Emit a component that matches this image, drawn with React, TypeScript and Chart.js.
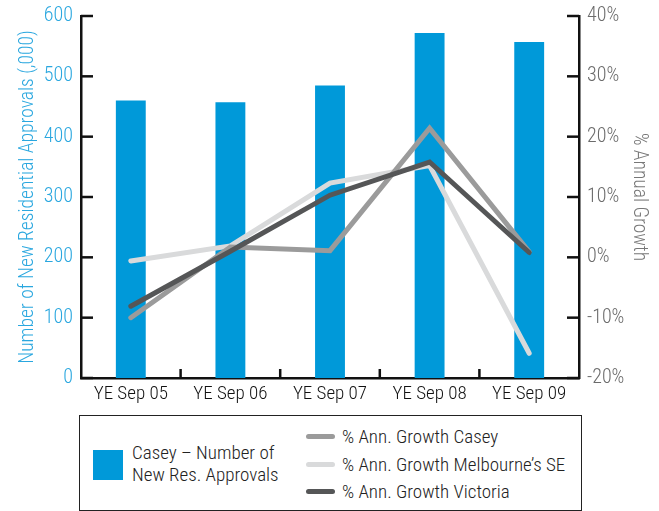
import React, { useEffect, useRef } from "react";
import { Chart, registerables } from "chart.js";

Chart.register(...registerables);

const categories = ["YE Sep 05", "YE Sep 06", "YE Sep 07", "YE Sep 08", "YE Sep 09"];
const approvals = [460, 457, 485, 572, 557];
const growthCasey = [-10, 1.7, 1.1, 21.4, 0.9];
const growthMelbSE = [-0.6, 1.9, 12.3, 15.2, -15.9];
const growthVictoria = [-8.1, 1.0, 10.3, 15.8, 0.8];

const leftTicks = [0, 100, 200, 300, 400, 500, 600];
const rightTicks = [-20, -10, 0, 10, 20, 30, 40];

const FONT = "'Roboto Condensed', 'DejaVu Sans Condensed', sans-serif";
const WEIGHT = 300;
const BLUE = "#0099d9";
const BLUE_TEXT = "#2aa7df";
const C_CASEY = "#9b9b9b";
const C_MELB = "#d9dadb";
const C_VIC = "#555657";

const innerTicks = {
  id: "innerTicks",
  afterDatasetsDraw(chart: any) {
    const { ctx, chartArea, scales } = chart;
    ctx.save();
    ctx.strokeStyle = "#111";
    ctx.lineWidth = 2.5;
    const y = scales.y;
    y.ticks.forEach((t: any) => {
      const py = y.getPixelForValue(t.value);
      ctx.beginPath();
      ctx.moveTo(chartArea.left, py);
      ctx.lineTo(chartArea.left + 12, py);
      ctx.stroke();
    });
    const y1 = scales.y1;
    y1.ticks.forEach((t: any) => {
      const py = y1.getPixelForValue(t.value);
      ctx.beginPath();
      ctx.moveTo(chartArea.right, py);
      ctx.lineTo(chartArea.right - 12, py);
      ctx.stroke();
    });
    const x = scales.x;
    for (let i = 0; i < categories.length - 1; i++) {
      const px = (x.getPixelForValue(i) + x.getPixelForValue(i + 1)) / 2;
      ctx.beginPath();
      ctx.moveTo(px, chartArea.bottom);
      ctx.lineTo(px, chartArea.bottom - 9);
      ctx.stroke();
    }
    ctx.restore();
  },
};

export default function App() {
  const ref = useRef<HTMLCanvasElement>(null);
  useEffect(() => {
    document.body.style.margin = "0";
    Chart.defaults.font.family = FONT;
    Chart.defaults.font.weight = WEIGHT as any;
    const chart = new Chart(ref.current!, {
      type: "bar",
      data: {
        labels: categories,
        datasets: [
          {
            type: "line",
            label: "% Ann. Growth Victoria",
            data: growthVictoria,
            yAxisID: "y1",
            borderColor: C_VIC,
            borderWidth: 5,
            pointRadius: 0,
            borderCapStyle: "round",
            tension: 0,
            order: 1,
          } as any,
          {
            type: "line",
            label: "% Ann. Growth Casey",
            data: growthCasey,
            yAxisID: "y1",
            borderColor: C_CASEY,
            borderWidth: 5,
            pointRadius: 0,
            borderCapStyle: "round",
            tension: 0,
            order: 2,
          } as any,
          {
            type: "line",
            label: "% Ann. Growth Melbourne's SE",
            data: growthMelbSE,
            yAxisID: "y1",
            borderColor: C_MELB,
            borderWidth: 5,
            pointRadius: 0,
            borderCapStyle: "round",
            tension: 0,
            order: 3,
          } as any,
          {
            type: "bar",
            label: "Casey – Number of New Res. Approvals",
            data: approvals,
            yAxisID: "y",
            backgroundColor: BLUE,
            barPercentage: 0.3,
            categoryPercentage: 1,
            order: 10,
          } as any,
        ],
      },
      options: {
        animation: false,
        responsive: true,
        maintainAspectRatio: false,
        layout: { padding: { top: 16, right: 0, left: 0, bottom: 0 } },
        plugins: { legend: { display: false }, tooltip: { enabled: false } },
        scales: {
          x: {
            grid: { display: false, drawTicks: false },
            border: { display: true, color: "#111", width: 2.5 },
            ticks: { color: "#111", font: { size: 19, weight: WEIGHT as any }, padding: 5, maxRotation: 0 },
            afterFit: (s: any) => { s.height = 32; },
          },
          y: {
            position: "left",
            min: 0,
            max: 600,
            afterBuildTicks: (s: any) => { s.ticks = leftTicks.map((v) => ({ value: v })); },
            grid: { display: false, drawTicks: false },
            border: { display: true, color: "#111", width: 2.5 },
            ticks: { color: BLUE_TEXT, font: { size: 20, weight: WEIGHT as any, lineHeight: 0.8 }, padding: 8 },
            title: {
              display: true,
              text: "Number of New Residential Approvals (,000)",
              color: BLUE_TEXT,
              font: { size: 19.5, weight: WEIGHT as any },
              padding: { top: 16, bottom: 0 },
            },
            afterFit: (s: any) => { s.width = 81; },
          },
          y1: {
            position: "right",
            min: -20,
            max: 40,
            afterBuildTicks: (s: any) => { s.ticks = rightTicks.map((v) => ({ value: v })); },
            grid: { display: false, drawTicks: false },
            border: { display: true, color: "#111", width: 2.5 },
            ticks: {
              color: "#6b6b6b",
              font: { size: 20, weight: WEIGHT as any, lineHeight: 0.8 },
              padding: 8,
              callback: (v: any) => `${v}%`,
            },
            title: {
              display: true,
              text: "% Annual Growth",
              color: "#777",
              font: { size: 19.5, weight: WEIGHT as any },
              padding: { top: 8, bottom: 0 },
            },
            afterFit: (s: any) => { s.width = 80; },
          },
        },
      },
      plugins: [innerTicks],
    });
    return () => chart.destroy();
  }, []);

  const lineItem = (color: string, text: string, top: number) => (
    <div style={{ position: "absolute", left: 226, top, display: "flex", alignItems: "center", height: 24, whiteSpace: "nowrap" }}>
      <div style={{ width: 29, height: 5, borderRadius: 3, background: color, marginRight: 7 }} />
      <span>{text}</span>
    </div>
  );

  return (
    <div style={{ position: "relative", width: 659, height: 511, fontFamily: FONT, fontWeight: WEIGHT, fontSize: 19, color: "#222" }}>
      <div style={{ position: "absolute", left: 0, top: 0, width: 659, height: 410 }}>
        <canvas ref={ref} />
      </div>
      <div
        style={{
          position: "absolute",
          left: 79,
          top: 415,
          width: 503,
          height: 96,
          boxSizing: "border-box",
          border: "1.5px solid #222",
        }}
      >
        <div style={{ position: "absolute", left: 13, top: 34, width: 30, height: 30, background: BLUE }} />
        <div style={{ position: "absolute", left: 52, top: 26, lineHeight: "22px", whiteSpace: "nowrap" }}>
          Casey – Number of
          <br />
          New Res. Approvals
        </div>
        {lineItem(C_CASEY, "% Ann. Growth Casey", 8)}
        {lineItem(C_MELB, "% Ann. Growth Melbourne’s SE", 36)}
        {lineItem(C_VIC, "% Ann. Growth Victoria", 63)}
      </div>
    </div>
  );
}
